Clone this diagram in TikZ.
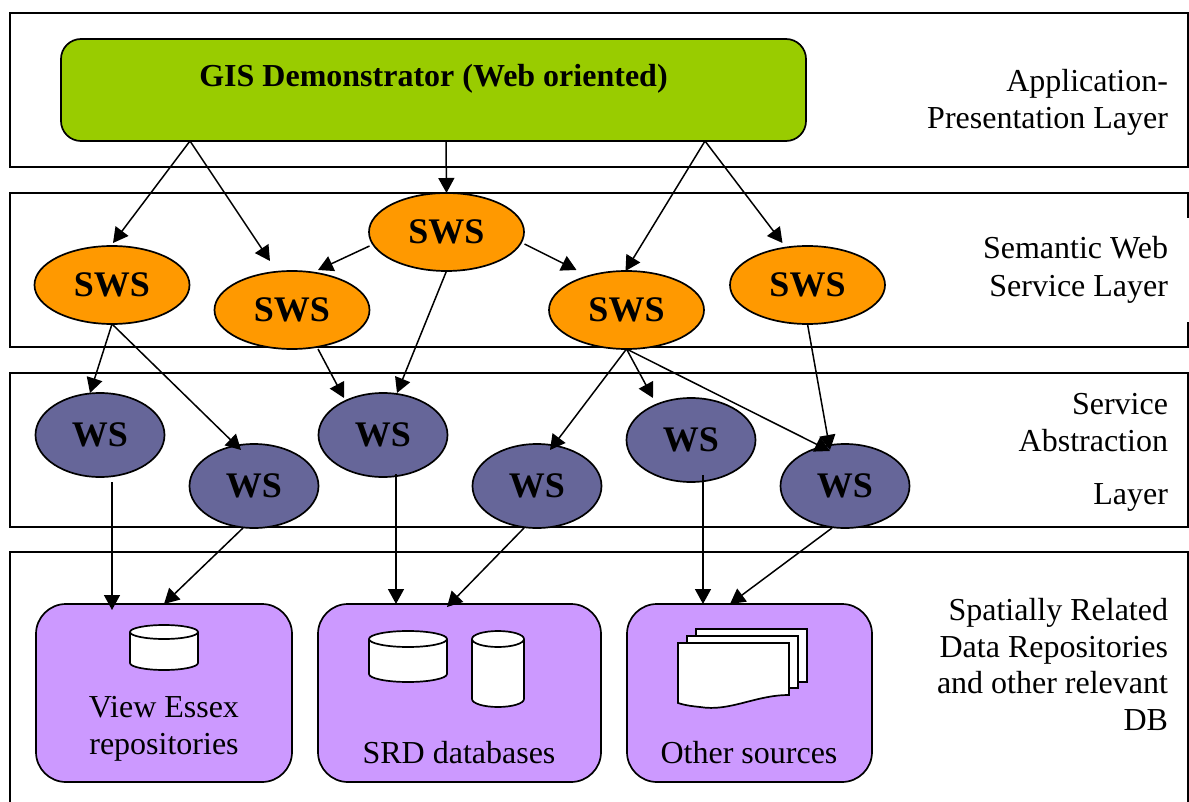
\documentclass[tikz,border=0pt]{standalone}
\usepackage{fontspec}
\setmainfont{Liberation Serif}
\usetikzlibrary{arrows.meta,shapes.geometric}
\definecolor{appgreen}{HTML}{99CC00}
\definecolor{swsorange}{HTML}{FF9900}
\definecolor{wsblue}{HTML}{666699}
\definecolor{repopurple}{HTML}{CC99FF}
\tikzset{
  x=1pt,y=-1pt,
  every node/.style={inner sep=0pt,outer sep=0pt},
  layerline/.style={line width=1.7pt,black},
  ovalnode/.style={draw,line width=1.7pt,shape=ellipse},
  swsnode/.style={ovalnode,fill=swsorange,minimum width=155pt,minimum height=78pt,font=\fontsize{36}{36}\selectfont\bfseries},
  wsnode/.style={ovalnode,fill=wsblue,minimum width=129pt,minimum height=84pt,font=\fontsize{36}{36}\selectfont\bfseries},
  repo/.style={draw,line width=1.7pt,fill=repopurple,rounded corners=30pt},
  conn/.style={line width=1.5pt,-{Triangle[length=15pt,width=16pt]}},
  lab/.style={anchor=base east,yshift=-2pt,font=\fontsize{32}{32}\selectfont},
  repotxt/.style={anchor=base,yshift=-1pt,font=\fontsize{32}{32}\selectfont},
  dbpart/.style={draw,line width=1.7pt,fill=white},
}
\begin{document}
\begin{tikzpicture}
\useasboundingbox (0,0) rectangle (1189,802);
\fill[white] (0,0) rectangle (1189,802);
% layers
\draw[layerline] (10,13) rectangle (1188,167);
\draw[layerline] (10,193) rectangle (1188,347);
\fill[white] (1180,218) rectangle (1189,322);
\draw[layerline] (10,373) rectangle (1188,527);
\draw[layerline] (10,802) -- (10,552) -- (1188,552) -- (1188,802);
% layer labels
\node[lab] at (1168,90) {Application-};
\node[lab] at (1168,127) {Presentation Layer};
\node[lab] at (1168,257) {Semantic Web};
\node[lab] at (1168,295) {Service Layer};
\node[lab] at (1168,412) {Service};
\node[lab] at (1168,449) {Abstraction};
\node[lab] at (1168,502) {Layer};
\node[lab] at (1168,618) {Spatially Related};
\node[lab] at (1168,655) {Data Repositories};
\node[lab] at (1168,691) {and other relevant};
\node[lab] at (1168,728) {DB};
% application
\draw[line width=1.7pt,fill=appgreen,rounded corners=20pt] (61,39) rectangle (806,141);
\node (app) at (433.5,90) [minimum width=745pt,minimum height=102pt] {};
\node[anchor=base,font=\fontsize{32}{32}\selectfont\bfseries] (apptxt) at (433.5,87) {GIS Demonstrator (Web oriented)};
% repositories
\node[repo,minimum width=256pt,minimum height=178pt] (view) at (164,693) {};
\node[repo,minimum width=283pt,minimum height=178pt] (srd) at (459.5,693) {};
\node[repo,minimum width=245pt,minimum height=178pt] (other) at (749.5,693) {};
\node[repotxt] (t1) at (164,716) {View Essex};
\node[repotxt] (t2) at (164,753) {repositories};
\node[repotxt] (t3) at (459,762) {SRD databases};
\node[repotxt] (t4) at (749,762) {Other sources};
% SWS
\node[swsnode] (s1) at (112,285) {SWS};
\node[swsnode] (s2) at (292,310) {SWS};
\node[swsnode] (sc) at (446.5,232) {SWS};
\node[swsnode] (s3) at (626.5,310) {SWS};
\node[swsnode] (s4) at (807.5,285) {SWS};
% WS
\node[wsnode] (w1) at (100,435) {WS};
\node[wsnode] (w2) at (254,486) {WS};
\node[wsnode] (w3) at (383,435) {WS};
\node[wsnode] (w4) at (537,486) {WS};
\node[wsnode] (w5) at (691,440) {WS};
\node[wsnode] (w6) at (845,486) {WS};
% cylinders
\draw[dbpart] (130,632) -- (130,663) arc[start angle=180,end angle=360,x radius=34pt,y radius=7pt] -- (198,632) arc[start angle=0,end angle=180,x radius=34pt,y radius=7pt] -- cycle;
\draw[line width=1.7pt] (130,632) arc[start angle=180,end angle=360,x radius=34pt,y radius=7pt];
\draw[dbpart] (369,639) -- (369,674) arc[start angle=180,end angle=360,x radius=39pt,y radius=8pt] -- (447,639) arc[start angle=0,end angle=180,x radius=39pt,y radius=8pt] -- cycle;
\draw[line width=1.7pt] (369,639) arc[start angle=180,end angle=360,x radius=39pt,y radius=8pt];
\draw[dbpart] (472,639) -- (472,699) arc[start angle=180,end angle=360,x radius=26pt,y radius=8pt] -- (524,639) arc[start angle=0,end angle=180,x radius=26pt,y radius=8pt] -- cycle;
\draw[line width=1.7pt] (472,639) arc[start angle=180,end angle=360,x radius=26pt,y radius=8pt];
% documents
\draw[dbpart] (696,629) rectangle (807,682);
\draw[dbpart] (687,636) rectangle (798,688);
\draw[dbpart] (678,643) -- (789,643) -- (789,695) .. controls (755,695) and (730,712) .. (700,707) .. controls (690,706) and (684,705) .. (678,703) -- cycle;
% connectors
\draw[conn] ([xshift=-243.5pt]app.south) -- ([xshift=1pt,yshift=3pt]s1.north);
\draw[conn] ([xshift=-243.5pt]app.south) -- ([xshift=-22pt,yshift=10pt]s2.north);
\draw[conn] ([xshift=12.5pt]app.south) -- (sc.north);
\draw[conn] ([xshift=271.5pt]app.south) -- ([xshift=-1pt]s3.north);
\draw[conn] ([xshift=271.5pt]app.south) -- ([xshift=-25pt,yshift=3pt]s4.north);
\draw[conn] ([xshift=-77pt,yshift=-14pt]sc.center) -- ([xshift=26pt,yshift=1pt]s2.north);
\draw[conn] ([xshift=78pt,yshift=-12pt]sc.center) -- ([xshift=-50pt,yshift=1pt]s3.north);
\draw[conn] (sc.south) -- ([xshift=14pt]w3.north);
\draw[conn] (s1.south) -- ([xshift=-10pt]w1.north);
\draw[conn] (s1.south) -- ([xshift=-13pt,yshift=-6pt]w2.north);
\draw[conn] ([xshift=26pt]s2.south) -- ([xshift=-39pt,yshift=-5pt]w3.north);
\draw[conn] (s3.south) -- ([xshift=13pt,yshift=-6pt]w4.north);
\draw[conn] (s3.south) -- ([xshift=-38pt]w5.north);
\draw[conn] (s3.south) -- ([xshift=-15pt,yshift=-7pt]w6.north);
\draw[conn] (s4.south) -- ([xshift=-15pt,yshift=-6pt]w6.north);
\draw[conn] ([xshift=12pt,yshift=-47pt]w1.center) -- ([xshift=-52pt,yshift=-6pt]view.north);
\draw[conn] ([xshift=-11pt]w2.south) -- (view.north);
\draw[conn] ([xshift=13pt,yshift=-39pt]w3.center) -- ([xshift=-63.5pt]srd.north);
\draw[conn] ([xshift=-13pt]w4.south) -- ([xshift=-12.5pt,yshift=-3pt]srd.north);
\draw[conn] ([xshift=12pt,yshift=-35pt]w5.center) -- ([xshift=-46.5pt]other.north);
\draw[conn] ([xshift=-13pt]w6.south) -- ([xshift=-19.5pt]other.north);
\end{tikzpicture}
\end{document}
